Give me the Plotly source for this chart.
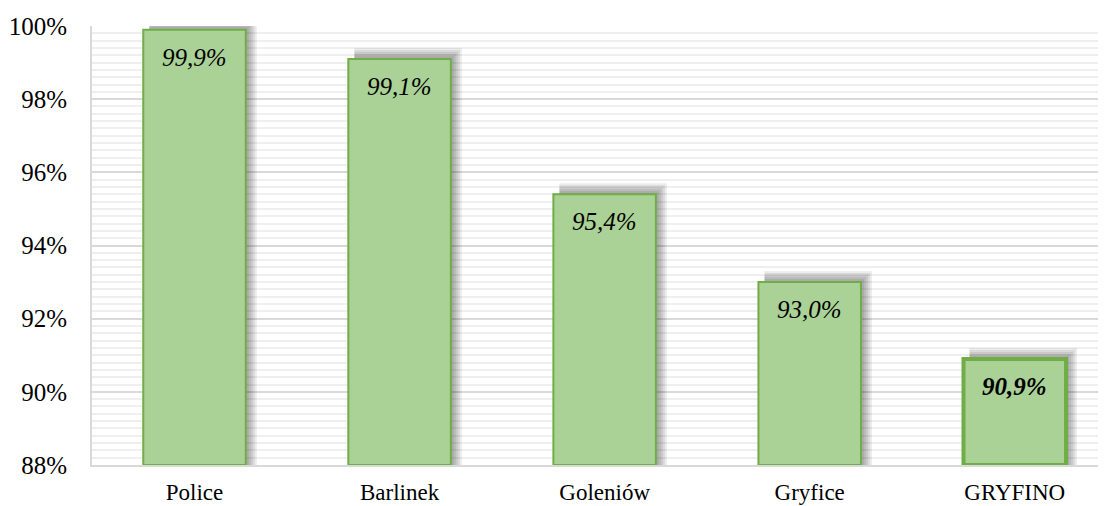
"""
Bar chart: share of population, recreated with plotly
"""
import plotly.graph_objects as go

# data
towns = ['Police', 'Barlinek', 'Goleniów', 'Gryfice', 'GRYFINO']
values = [99.9, 99.1, 95.4, 93.0, 90.9]
labels = ['99,9%', '99,1%', '95,4%', '93,0%', '90,9%']
y_ticks = [88, 90, 92, 94, 96, 98, 100]
y_tick_text = ['88%', '90%', '92%', '94%', '96%', '98%', '100%']

FONT = 'Liberation Serif'
GREEN = '#70ad47'
FILL = '#aad196'
PX_X = 1 / 205.0   # one pixel in category units
PX_Y = 12 / 439.0  # one pixel in percent units

outline = [4 if t == 'GRYFINO' else 2 for t in towns]

fig = go.Figure()

# fake blurred shadow behind the bars (up and to the right)
for e in [11, 9, 7, 5, 3]:
    fig.add_trace(go.Bar(x=towns,
                         y=[v - 88 + e * PX_Y for v in values],
                         base=88,
                         width=0.5 - 6 * PX_X + e * PX_X,
                         offset=-0.25 + 6 * PX_X,
                         marker=dict(color='rgba(0,0,0,0.075)',
                                     line=dict(width=0)),
                         hoverinfo='skip',
                         showlegend=False))

fig.add_trace(go.Bar(x=towns,
                     y=[v - 88 for v in values],
                     base=88,
                     width=0.5,
                     marker=dict(color=FILL,
                                 line=dict(color=GREEN, width=outline)),
                     showlegend=False))

# value labels inside the top of each bar
for t, v, lab in zip(towns, values, labels):
    bold = t == 'GRYFINO'
    fig.add_annotation(x=t, y=v, text='<b>%s</b>' % lab if bold else lab,
                       showarrow=False, yanchor='top', yshift=-12,
                       font=dict(family=FONT, size=25, color='black',
                                 style='italic'))

# the html page body has an 8px margin, so the figure is a bit smaller
fig.update_layout(
    template='none',
    width=1098, height=498,
    margin=dict(l=84, r=0, t=18, b=41, pad=0),
    paper_bgcolor='white', plot_bgcolor='white',
    barmode='overlay',
    showlegend=False,
)
fig.update_xaxes(range=[-0.5, 4.445],
                 automargin=False,
                 showgrid=False,
                 showline=True, linecolor='#d9d9d9', linewidth=2,
                 ticks='', ticklabelstandoff=5,
                 tickfont=dict(family=FONT, size=23, color='black'))
fig.update_yaxes(range=[88, 100],
                 automargin=False,
                 tickvals=y_ticks,
                 ticktext=y_tick_text,
                 showgrid=True, gridcolor='#d9d9d9', gridwidth=2,
                 minor=dict(dtick=0.2, showgrid=True,
                            gridcolor='#efefef', gridwidth=2),
                 showline=True, linecolor='#d9d9d9', linewidth=2,
                 zeroline=False,
                 ticks='', ticklabelstandoff=18,
                 tickfont=dict(family=FONT, size=25, color='black'))

fig.write_html("out.html")
